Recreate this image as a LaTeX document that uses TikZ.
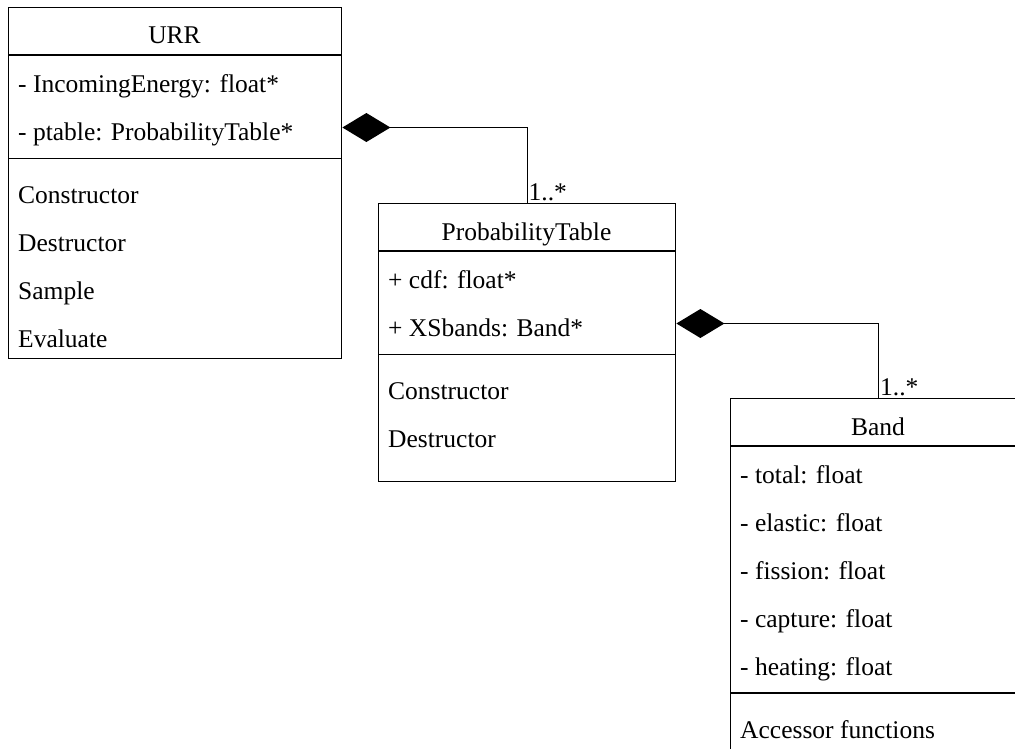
\documentclass[tikz,border=0pt]{standalone}
\usepackage{fontspec}
\setmainfont{Liberation Serif}
\usetikzlibrary{arrows.meta}
\tikzset{
  classbox/.style={draw=black, line width=1.4pt, fill=white, inner sep=0pt, anchor=north west},
  sepline/.style={draw=black, line width=1.4pt},
  member/.style={anchor=base west, inner sep=0pt, font=\fontsize{25.5pt}{30pt}\selectfont},
  title/.style={anchor=base, inner sep=0pt, font=\fontsize{25.5pt}{30pt}\selectfont},
  comp/.style={draw=black, line width=1.4pt, {Diamond[length=48pt,width=29pt]}-},
}
\begin{document}
\begin{tikzpicture}[x=1pt,y=-1pt]
\clip (0,0) rectangle (1015,748);
\fill[white] (0,0) rectangle (1015,748);

% URR
\node[classbox, minimum width=333pt, minimum height=351pt] (urr) at (8,7) {};
\draw[sepline] (urr.west |- 0,55) -- (urr.east |- 0,55);
\draw[sepline] (urr.west |- 0,158.5) -- (urr.east |- 0,158.5);
\node[title] (urrt) at (174.5,43) {URR};
\node[member] (u1) at (18,92) {- IncomingEnergy: float*};
\node[member] (u2) at (18,140) {- ptable: ProbabilityTable*};
\node[member] (u3) at (18,203) {Constructor};
\node[member] (u4) at (18,251) {Destructor};
\node[member] (u5) at (18,299) {Sample};
\node[member] (u6) at (18,347) {Evaluate};

% ProbabilityTable
\node[classbox, minimum width=297pt, minimum height=278pt] (pt) at (378,203) {};
\draw[sepline] (pt.west |- 0,251) -- (pt.east |- 0,251);
\draw[sepline] (pt.west |- 0,354.5) -- (pt.east |- 0,354.5);
\node[title] (ptt) at (526.5,240) {ProbabilityTable};
\node[member] (p1) at (388,288) {+ cdf: float*};
\node[member] (p2) at (388,336) {+ XSbands: Band*};
\node[member] (p3) at (388,399) {Constructor};
\node[member] (p4) at (388,447) {Destructor};

% Band
\node[classbox, minimum width=296pt, minimum height=360pt] (band) at (730,398) {};
\draw[sepline] (band.west |- 0,446) -- (band.east |- 0,446);
\draw[sepline] (band.west |- 0,693) -- (band.east |- 0,693);
\node[title] (bandt) at (878,435) {Band};
\node[member] (b1) at (740,483) {- total: float};
\node[member] (b2) at (740,531) {- elastic: float};
\node[member] (b3) at (740,579) {- fission: float};
\node[member] (b4) at (740,627) {- capture: float};
\node[member] (b5) at (740,675) {- heating: float};
\node[member] (b6) at (740,738) {Accessor functions};

% compositions
\coordinate (a1) at (urr.east |- 0,127.5);
\draw[comp] (a1) -| (pt.north);
\node[member] (m1) at (528.5,200) {1..*};

\coordinate (a2) at (pt.east |- 0,323.5);
\draw[comp] (a2) -| (band.north);
\node[member] (m2) at (880,395) {1..*};
\end{tikzpicture}
\end{document}
